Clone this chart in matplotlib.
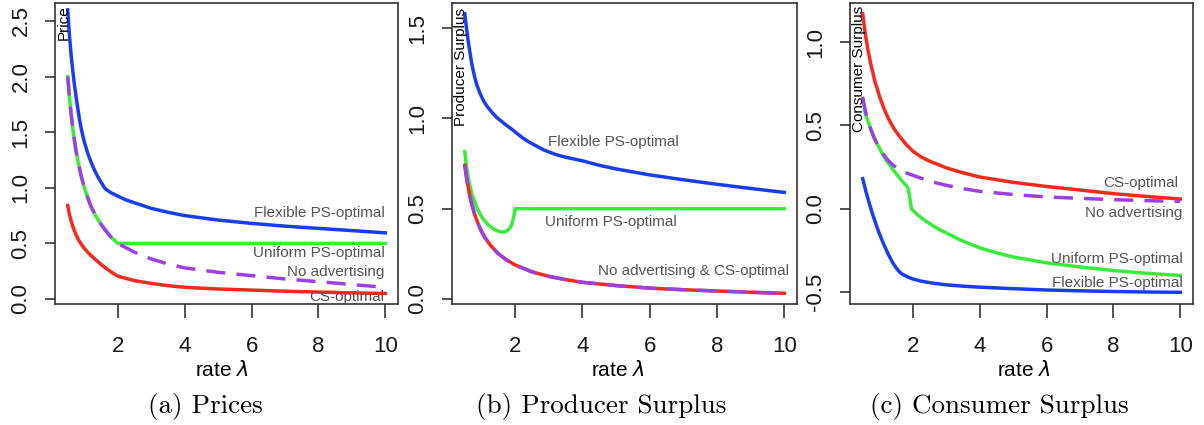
import matplotlib
matplotlib.use("Agg")
import matplotlib.pyplot as plt

plt.rcParams['font.family'] = ['Liberation Sans', 'DejaVu Sans']

# couleurs des courbes
BLUE = '#1a3cf2'
RED = '#f5291c'
GREEN = '#3aec3a'
PURPLE = '#9b3fe6'
GREY_TXT = '#555555'

# ---- (a) Prices ----
lam_a_flex = [0.5, 0.55, 0.6, 0.65, 0.7, 0.75, 0.8, 0.85, 0.9, 0.95, 1.0, 1.1, 1.2, 1.3, 1.4, 1.5, 1.6, 1.65,
              1.8, 2.0, 2.25, 2.5, 2.75, 3, 3.5, 4, 4.5, 5, 6, 7, 8, 9, 10]
price_flex = [2.6, 2.38, 2.2, 2.06, 1.93, 1.82, 1.72, 1.62, 1.54, 1.47, 1.41, 1.31, 1.23, 1.16, 1.10, 1.05, 1.0, 0.985,
              0.955, 0.925, 0.89, 0.865, 0.84, 0.815, 0.78, 0.75, 0.73, 0.71, 0.68, 0.655, 0.635, 0.615, 0.595]
lam_a = [0.5, 0.55, 0.6, 0.65, 0.7, 0.75, 0.8, 0.9, 1.0, 1.1, 1.2, 1.35, 1.5, 1.65, 1.8, 2.0,
         2.5, 3, 3.5, 4, 5, 6, 7, 8, 9, 10]
price_noadv = [2.0, 1.82, 1.67, 1.54, 1.43, 1.33, 1.25, 1.11, 1.0, 0.91, 0.83, 0.74, 0.67, 0.61, 0.555, 0.5,
               0.42, 0.36, 0.315, 0.28, 0.24, 0.21, 0.18, 0.156, 0.13, 0.105]
price_unif = [2.0, 1.82, 1.67, 1.54, 1.43, 1.33, 1.25, 1.11, 1.0, 0.91, 0.83, 0.74, 0.67, 0.61, 0.555, 0.5,
              0.5, 0.5, 0.5, 0.5, 0.5, 0.5, 0.5, 0.5, 0.5, 0.5]
price_cs = [0.84, 0.765, 0.705, 0.655, 0.615, 0.578, 0.545, 0.495, 0.455, 0.42, 0.39, 0.35, 0.31, 0.275, 0.243, 0.205,
            0.165, 0.14, 0.12, 0.105, 0.09, 0.08, 0.07, 0.062, 0.055, 0.05]

# ---- (b) Producer Surplus ----
lam_b_flex = [0.5, 0.55, 0.6, 0.65, 0.71, 0.78, 0.85, 0.95, 1.05, 1.15, 1.3, 1.45, 1.55, 1.65, 1.75, 1.9, 2.05,
              2.2, 2.4, 2.6, 2.85, 3.2, 3.5, 4, 4.5, 5, 6, 7, 8, 9, 10]
ps_flex = [1.58, 1.50, 1.43, 1.37, 1.30, 1.24, 1.19, 1.14, 1.10, 1.07, 1.035, 1.005, 0.99, 0.975, 0.96, 0.94, 0.917,
           0.895, 0.87, 0.85, 0.825, 0.80, 0.785, 0.765, 0.74, 0.72, 0.687, 0.66, 0.635, 0.612, 0.59]
lam_b_unif = [0.5, 0.54, 0.58, 0.62, 0.66, 0.72, 0.78, 0.85, 0.9, 1.0, 1.1, 1.2, 1.3, 1.4, 1.5, 1.6, 1.7,
              1.78, 1.85, 1.9, 1.95, 1.98, 2.0, 10]
ps_unif = [0.815, 0.75, 0.70, 0.655, 0.62, 0.575, 0.545, 0.51, 0.49, 0.455, 0.43, 0.41, 0.395, 0.383, 0.375, 0.37, 0.372,
           0.38, 0.395, 0.415, 0.45, 0.48, 0.5, 0.5]
lam_b = [0.5, 0.55, 0.6, 0.65, 0.7, 0.8, 0.9, 1.0, 1.1, 1.25, 1.4, 1.5, 1.75, 2, 2.5, 3, 3.5, 4, 5, 6, 7, 8, 9, 10]
ps_noadv = [0.74, 0.675, 0.62, 0.57, 0.53, 0.465, 0.415, 0.373, 0.34, 0.30, 0.27, 0.25, 0.215, 0.188, 0.15, 0.125,
            0.107, 0.092, 0.074, 0.06, 0.051, 0.044, 0.037, 0.031]

# ---- (c) Consumer Surplus ----
lam_c_cs = [0.5, 0.55, 0.6, 0.65, 0.7, 0.75, 0.8, 0.87, 0.95, 1.0, 1.1, 1.2, 1.31, 1.45, 1.6, 1.8, 2, 2.25, 2.5,
            3, 3.5, 4, 5, 6, 7, 8, 9, 10]
cs_cs = [1.17, 1.09, 1.02, 0.96, 0.91, 0.86, 0.82, 0.76, 0.71, 0.675, 0.62, 0.57, 0.525, 0.475, 0.435, 0.385, 0.345,
         0.31, 0.285, 0.245, 0.215, 0.19, 0.158, 0.133, 0.112, 0.09, 0.073, 0.058]
lam_c_noadv = [0.5, 0.55, 0.6, 0.67, 0.75, 0.85, 0.97, 1.1, 1.26, 1.4, 1.6, 1.8, 2, 2.5, 3, 3.5, 4, 5, 6, 7, 8, 9, 10]
cs_noadv = [0.67, 0.615, 0.57, 0.52, 0.47, 0.42, 0.373, 0.33, 0.29, 0.262, 0.235, 0.215, 0.2, 0.165, 0.14, 0.12,
            0.104, 0.085, 0.07, 0.062, 0.054, 0.048, 0.044]
lam_c_unif = [0.55, 0.62, 0.7, 0.77, 0.85, 0.93, 1.01, 1.1, 1.2, 1.31, 1.4, 1.5, 1.6, 1.7, 1.8, 1.86, 1.9, 1.93,
              1.96, 2.0, 2.1, 2.25, 2.5, 2.75, 3, 3.5, 4, 4.5, 5, 6, 7, 8, 9, 10]
cs_unif = [0.59, 0.545, 0.50, 0.465, 0.425, 0.39, 0.36, 0.325, 0.29, 0.26, 0.235, 0.21, 0.185, 0.16, 0.14, 0.12,
           0.08, 0.03, 0.0, -0.01, -0.03, -0.055, -0.09, -0.12, -0.146, -0.195, -0.235, -0.265, -0.29, -0.325,
           -0.35, -0.371, -0.388, -0.401]
lam_c_flex = [0.5, 0.55, 0.6, 0.7, 0.8, 0.9, 0.97, 1.1, 1.26, 1.4, 1.5, 1.6, 1.7, 1.85, 2.0, 2.25, 2.6, 3, 3.5,
              4, 5, 6, 7, 8, 9, 10]
cs_flex = [0.18, 0.14, 0.10, 0.03, -0.035, -0.095, -0.135, -0.2, -0.272, -0.325, -0.355, -0.38, -0.395, -0.41,
           -0.422, -0.435, -0.447, -0.457, -0.465, -0.471, -0.48, -0.488, -0.493, -0.497, -0.5, -0.502]

W, H = 1204, 425
fig = plt.figure(figsize=(W / 100, H / 100), dpi=100)


def make_axes(x0, x1, ylim, yticks):
    ax = fig.add_axes([x0 / W, 1 - 304 / H, (x1 - x0) / W, 301 / H])
    ax.set_xlim(0.12, 10.38)
    ax.set_ylim(*ylim)
    ax.set_xticks([2, 4, 6, 8, 10])
    ax.set_yticks(yticks)
    ax.set_yticklabels([f'{v:.1f}' for v in yticks])
    for s in ax.spines.values():
        s.set_color('#333333')
        s.set_linewidth(1.2)
    ax.tick_params(axis='both', colors='#333333', labelcolor='#1a1a1a',
                   labelsize=16, width=1.2)
    ax.tick_params(axis='x', length=10, pad=13)
    ax.tick_params(axis='y', length=7, pad=10, labelrotation=90)
    for lbl in ax.get_yticklabels():
        lbl.set_verticalalignment('center')
    return ax


LW = 2.5
dash = dict(dashes=(5.5, 3.2))

# (a)
ax = make_axes(55, 398, (-0.045, 2.662), [0.0, 0.5, 1.0, 1.5, 2.0, 2.5])
ax.plot(lam_a_flex, price_flex, color=BLUE, lw=LW)
ax.plot(lam_a, price_unif, color=GREEN, lw=LW)
ax.plot(lam_a, price_cs, color=RED, lw=LW)
ax.plot(lam_a, price_noadv, color=PURPLE, lw=LW, **dash)
ax.text(0.026, 0.993, 'Price', transform=ax.transAxes, rotation=90,
        ha='center', va='top', fontsize=11)
for txt, y in [('Flexible PS-optimal', 0.773), ('Uniform PS-optimal', 0.41),
               ('No advertising', 0.243), ('CS-optimal', 0.018)]:
    ax.text(9.98, y, txt, ha='right', va='center', fontsize=11, color=GREY_TXT)

# (b)
ax = make_axes(452, 797, (-0.028, 1.639), [0.0, 0.5, 1.0, 1.5])
ax.plot(lam_b_flex, ps_flex, color=BLUE, lw=LW)
ax.plot(lam_b_unif, ps_unif, color=GREEN, lw=LW)
ax.plot(lam_b, ps_noadv, color=RED, lw=LW)
ax.plot(lam_b, ps_noadv, color=PURPLE, lw=LW, **dash)
ax.text(0.0275, 0.985, 'Producer Surplus', transform=ax.transAxes, rotation=90,
        ha='center', va='top', fontsize=11)
ax.text(4.93, 0.87, 'Flexible PS-optimal', ha='center', va='center', fontsize=11, color=GREY_TXT)
ax.text(4.85, 0.427, 'Uniform PS-optimal', ha='center', va='center', fontsize=11, color=GREY_TXT)
ax.text(10.15, 0.155, 'No advertising & CS-optimal', ha='right', va='center', fontsize=11, color=GREY_TXT)

# (c)
ax = make_axes(850, 1193, (-0.572, 1.234), [-0.5, 0.0, 0.5, 1.0])
ax.plot(lam_c_flex, cs_flex, color=BLUE, lw=LW)
ax.plot(lam_c_unif, cs_unif, color=GREEN, lw=LW)
ax.plot(lam_c_cs, cs_cs, color=RED, lw=LW)
ax.plot(lam_c_noadv, cs_noadv, color=PURPLE, lw=LW, **dash)
ax.text(0.025, 0.99, 'Consumer Surplus', transform=ax.transAxes, rotation=90,
        ha='center', va='top', fontsize=11)
for txt, x, y in [('CS-optimal', 9.94, 0.156), ('No advertising', 10.06, -0.024),
                  ('Uniform PS-optimal', 10.06, -0.30), ('Flexible PS-optimal', 10.06, -0.443)]:
    ax.text(x, y, txt, ha='right', va='center', fontsize=11, color=GREY_TXT)

# titres des axes x et légendes
for xc in [222, 617.5, 1023.5]:
    fig.text(xc / W, 1 - 370 / H, r'rate $\lambda$', ha='center', va='center', fontsize=15)
for xc, cap in [(205, '(a) Prices'), (601, '(b) Producer Surplus'), (999.5, '(c) Consumer Surplus')]:
    fig.text(xc / W, 1 - 407 / H, cap, ha='center', va='center', fontsize=19.5, family='cmr10')

fig.savefig('out.png', dpi=100)
